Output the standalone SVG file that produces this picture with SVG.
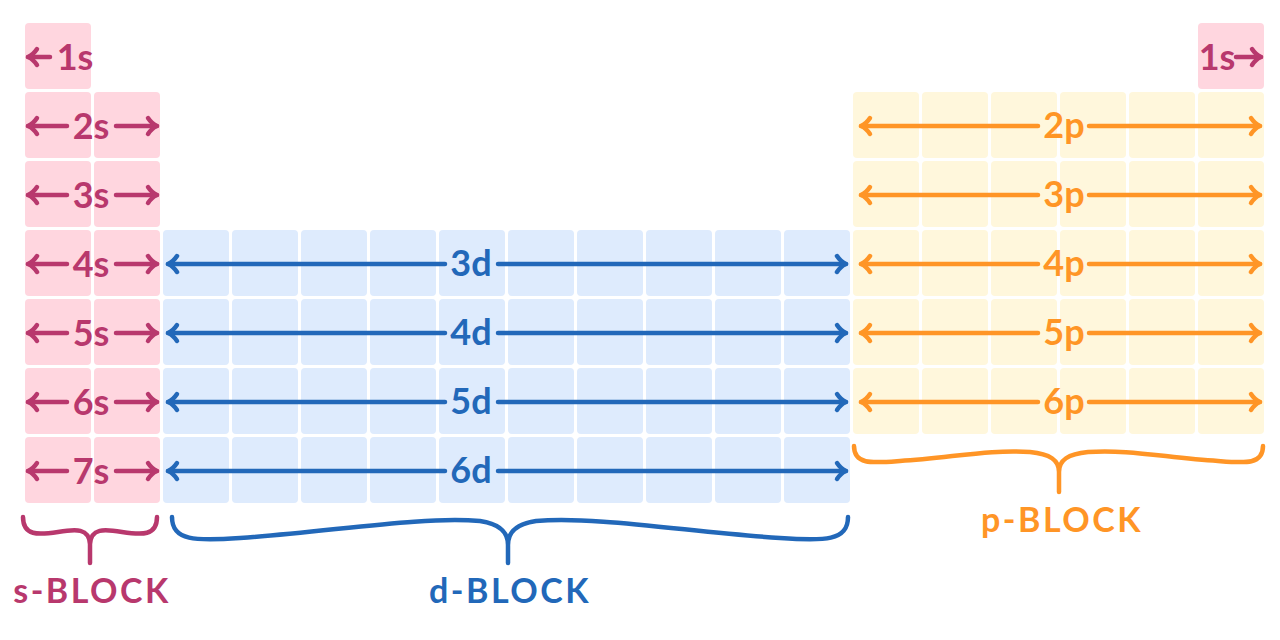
<svg xmlns="http://www.w3.org/2000/svg" width="1280" height="640" viewBox="0 0 1280 640">
  <style>
    .s-cell { fill: #FFD6DF; }
    .d-cell { fill: #DEEBFD; }
    .p-cell { fill: #FFF7DC; }
    text { font-family: "Lato", "Liberation Sans", sans-serif; font-weight: 700; text-anchor: middle; }
    .lbl { font-size: 36px; }
    .blk { font-size: 34px; letter-spacing: 2.5px; }
    .s-t { fill: #B8386D; }
    .d-t { fill: #2268B9; }
    .p-t { fill: #FF9526; }
    .ln { fill: none; stroke-width: 4.5; stroke-linecap: round; stroke-linejoin: round; }
    .s-l { stroke: #B8386D; }
    .d-l { stroke: #2268B9; }
    .p-l { stroke: #FF9526; }
  </style>
  <defs>
    <marker id="hs" markerUnits="userSpaceOnUse" viewBox="-14 -12 18 24" refX="0" refY="0" markerWidth="18" markerHeight="24" orient="auto" overflow="visible">
      <path d="M-9,-8 Q-5,-2 0,0 Q-5,2 -9,8" fill="none" stroke="#B8386D" stroke-width="4.5" stroke-linecap="round" stroke-linejoin="round"/>
    </marker>
    <marker id="hd" markerUnits="userSpaceOnUse" viewBox="-14 -12 18 24" refX="0" refY="0" markerWidth="18" markerHeight="24" orient="auto" overflow="visible">
      <path d="M-9,-8 Q-5,-2 0,0 Q-5,2 -9,8" fill="none" stroke="#2268B9" stroke-width="4.5" stroke-linecap="round" stroke-linejoin="round"/>
    </marker>
    <marker id="hp" markerUnits="userSpaceOnUse" viewBox="-14 -12 18 24" refX="0" refY="0" markerWidth="18" markerHeight="24" orient="auto" overflow="visible">
      <path d="M-9,-8 Q-5,-2 0,0 Q-5,2 -9,8" fill="none" stroke="#FF9526" stroke-width="4.5" stroke-linecap="round" stroke-linejoin="round"/>
    </marker>
  </defs>

  <!-- s-block cells -->
  <g id="s-block">
    <rect class="s-cell" x="25" y="23" width="66" height="66" rx="4"/>
    <rect class="s-cell" x="1198" y="23" width="66" height="66" rx="4"/>
    <rect class="s-cell" x="25" y="92" width="66" height="66" rx="4"/>
    <rect class="s-cell" x="94" y="92" width="66" height="66" rx="4"/>
    <rect class="s-cell" x="25" y="161" width="66" height="66" rx="4"/>
    <rect class="s-cell" x="94" y="161" width="66" height="66" rx="4"/>
    <rect class="s-cell" x="25" y="230" width="66" height="66" rx="4"/>
    <rect class="s-cell" x="94" y="230" width="66" height="66" rx="4"/>
    <rect class="s-cell" x="25" y="299" width="66" height="66" rx="4"/>
    <rect class="s-cell" x="94" y="299" width="66" height="66" rx="4"/>
    <rect class="s-cell" x="25" y="368" width="66" height="66" rx="4"/>
    <rect class="s-cell" x="94" y="368" width="66" height="66" rx="4"/>
    <rect class="s-cell" x="25" y="437" width="66" height="66" rx="4"/>
    <rect class="s-cell" x="94" y="437" width="66" height="66" rx="4"/>
  </g>

  <!-- d-block cells -->
  <g id="d-block">
    <rect class="d-cell" x="163" y="230" width="66" height="66" rx="4"/>
    <rect class="d-cell" x="232" y="230" width="66" height="66" rx="4"/>
    <rect class="d-cell" x="301" y="230" width="66" height="66" rx="4"/>
    <rect class="d-cell" x="370" y="230" width="66" height="66" rx="4"/>
    <rect class="d-cell" x="439" y="230" width="66" height="66" rx="4"/>
    <rect class="d-cell" x="508" y="230" width="66" height="66" rx="4"/>
    <rect class="d-cell" x="577" y="230" width="66" height="66" rx="4"/>
    <rect class="d-cell" x="646" y="230" width="66" height="66" rx="4"/>
    <rect class="d-cell" x="715" y="230" width="66" height="66" rx="4"/>
    <rect class="d-cell" x="784" y="230" width="66" height="66" rx="4"/>
    <rect class="d-cell" x="163" y="299" width="66" height="66" rx="4"/>
    <rect class="d-cell" x="232" y="299" width="66" height="66" rx="4"/>
    <rect class="d-cell" x="301" y="299" width="66" height="66" rx="4"/>
    <rect class="d-cell" x="370" y="299" width="66" height="66" rx="4"/>
    <rect class="d-cell" x="439" y="299" width="66" height="66" rx="4"/>
    <rect class="d-cell" x="508" y="299" width="66" height="66" rx="4"/>
    <rect class="d-cell" x="577" y="299" width="66" height="66" rx="4"/>
    <rect class="d-cell" x="646" y="299" width="66" height="66" rx="4"/>
    <rect class="d-cell" x="715" y="299" width="66" height="66" rx="4"/>
    <rect class="d-cell" x="784" y="299" width="66" height="66" rx="4"/>
    <rect class="d-cell" x="163" y="368" width="66" height="66" rx="4"/>
    <rect class="d-cell" x="232" y="368" width="66" height="66" rx="4"/>
    <rect class="d-cell" x="301" y="368" width="66" height="66" rx="4"/>
    <rect class="d-cell" x="370" y="368" width="66" height="66" rx="4"/>
    <rect class="d-cell" x="439" y="368" width="66" height="66" rx="4"/>
    <rect class="d-cell" x="508" y="368" width="66" height="66" rx="4"/>
    <rect class="d-cell" x="577" y="368" width="66" height="66" rx="4"/>
    <rect class="d-cell" x="646" y="368" width="66" height="66" rx="4"/>
    <rect class="d-cell" x="715" y="368" width="66" height="66" rx="4"/>
    <rect class="d-cell" x="784" y="368" width="66" height="66" rx="4"/>
    <rect class="d-cell" x="163" y="437" width="66" height="66" rx="4"/>
    <rect class="d-cell" x="232" y="437" width="66" height="66" rx="4"/>
    <rect class="d-cell" x="301" y="437" width="66" height="66" rx="4"/>
    <rect class="d-cell" x="370" y="437" width="66" height="66" rx="4"/>
    <rect class="d-cell" x="439" y="437" width="66" height="66" rx="4"/>
    <rect class="d-cell" x="508" y="437" width="66" height="66" rx="4"/>
    <rect class="d-cell" x="577" y="437" width="66" height="66" rx="4"/>
    <rect class="d-cell" x="646" y="437" width="66" height="66" rx="4"/>
    <rect class="d-cell" x="715" y="437" width="66" height="66" rx="4"/>
    <rect class="d-cell" x="784" y="437" width="66" height="66" rx="4"/>
  </g>

  <!-- p-block cells -->
  <g id="p-block">
    <rect class="p-cell" x="853" y="92" width="66" height="66" rx="4"/>
    <rect class="p-cell" x="922" y="92" width="66" height="66" rx="4"/>
    <rect class="p-cell" x="991" y="92" width="66" height="66" rx="4"/>
    <rect class="p-cell" x="1060" y="92" width="66" height="66" rx="4"/>
    <rect class="p-cell" x="1129" y="92" width="66" height="66" rx="4"/>
    <rect class="p-cell" x="1198" y="92" width="66" height="66" rx="4"/>
    <rect class="p-cell" x="853" y="161" width="66" height="66" rx="4"/>
    <rect class="p-cell" x="922" y="161" width="66" height="66" rx="4"/>
    <rect class="p-cell" x="991" y="161" width="66" height="66" rx="4"/>
    <rect class="p-cell" x="1060" y="161" width="66" height="66" rx="4"/>
    <rect class="p-cell" x="1129" y="161" width="66" height="66" rx="4"/>
    <rect class="p-cell" x="1198" y="161" width="66" height="66" rx="4"/>
    <rect class="p-cell" x="853" y="230" width="66" height="66" rx="4"/>
    <rect class="p-cell" x="922" y="230" width="66" height="66" rx="4"/>
    <rect class="p-cell" x="991" y="230" width="66" height="66" rx="4"/>
    <rect class="p-cell" x="1060" y="230" width="66" height="66" rx="4"/>
    <rect class="p-cell" x="1129" y="230" width="66" height="66" rx="4"/>
    <rect class="p-cell" x="1198" y="230" width="66" height="66" rx="4"/>
    <rect class="p-cell" x="853" y="299" width="66" height="66" rx="4"/>
    <rect class="p-cell" x="922" y="299" width="66" height="66" rx="4"/>
    <rect class="p-cell" x="991" y="299" width="66" height="66" rx="4"/>
    <rect class="p-cell" x="1060" y="299" width="66" height="66" rx="4"/>
    <rect class="p-cell" x="1129" y="299" width="66" height="66" rx="4"/>
    <rect class="p-cell" x="1198" y="299" width="66" height="66" rx="4"/>
    <rect class="p-cell" x="853" y="368" width="66" height="66" rx="4"/>
    <rect class="p-cell" x="922" y="368" width="66" height="66" rx="4"/>
    <rect class="p-cell" x="991" y="368" width="66" height="66" rx="4"/>
    <rect class="p-cell" x="1060" y="368" width="66" height="66" rx="4"/>
    <rect class="p-cell" x="1129" y="368" width="66" height="66" rx="4"/>
    <rect class="p-cell" x="1198" y="368" width="66" height="66" rx="4"/>
  </g>

  <!-- connectors: orbital arrows and braces -->
  <g id="connectors">
    <!-- s arrows -->
    <path class="ln s-l" d="M50,57 L28,57" marker-end="url(#hs)"/>
    <path class="ln s-l" d="M1236,57 L1261,57" marker-end="url(#hs)"/>
    <path class="ln s-l" d="M67,126 L28,126" marker-end="url(#hs)"/>
    <path class="ln s-l" d="M116,126 L157,126" marker-end="url(#hs)"/>
    <path class="ln s-l" d="M67,195 L28,195" marker-end="url(#hs)"/>
    <path class="ln s-l" d="M116,195 L157,195" marker-end="url(#hs)"/>
    <path class="ln s-l" d="M67,264 L28,264" marker-end="url(#hs)"/>
    <path class="ln s-l" d="M116,264 L157,264" marker-end="url(#hs)"/>
    <path class="ln s-l" d="M67,333 L28,333" marker-end="url(#hs)"/>
    <path class="ln s-l" d="M116,333 L157,333" marker-end="url(#hs)"/>
    <path class="ln s-l" d="M67,402 L28,402" marker-end="url(#hs)"/>
    <path class="ln s-l" d="M116,402 L157,402" marker-end="url(#hs)"/>
    <path class="ln s-l" d="M67,471 L28,471" marker-end="url(#hs)"/>
    <path class="ln s-l" d="M116,471 L157,471" marker-end="url(#hs)"/>
    <!-- d arrows -->
    <path class="ln d-l" d="M445,264 L168,264" marker-end="url(#hd)"/>
    <path class="ln d-l" d="M498,264 L846,264" marker-end="url(#hd)"/>
    <path class="ln d-l" d="M445,333 L168,333" marker-end="url(#hd)"/>
    <path class="ln d-l" d="M498,333 L846,333" marker-end="url(#hd)"/>
    <path class="ln d-l" d="M445,402 L168,402" marker-end="url(#hd)"/>
    <path class="ln d-l" d="M498,402 L846,402" marker-end="url(#hd)"/>
    <path class="ln d-l" d="M445,471 L168,471" marker-end="url(#hd)"/>
    <path class="ln d-l" d="M498,471 L846,471" marker-end="url(#hd)"/>
    <!-- p arrows -->
    <path class="ln p-l" d="M1038,126 L861,126" marker-end="url(#hp)"/>
    <path class="ln p-l" d="M1089,126 L1260,126" marker-end="url(#hp)"/>
    <path class="ln p-l" d="M1038,195 L861,195" marker-end="url(#hp)"/>
    <path class="ln p-l" d="M1089,195 L1260,195" marker-end="url(#hp)"/>
    <path class="ln p-l" d="M1038,264 L861,264" marker-end="url(#hp)"/>
    <path class="ln p-l" d="M1089,264 L1260,264" marker-end="url(#hp)"/>
    <path class="ln p-l" d="M1038,333 L861,333" marker-end="url(#hp)"/>
    <path class="ln p-l" d="M1089,333 L1260,333" marker-end="url(#hp)"/>
    <path class="ln p-l" d="M1038,402 L861,402" marker-end="url(#hp)"/>
    <path class="ln p-l" d="M1089,402 L1260,402" marker-end="url(#hp)"/>
    <!-- braces -->
    <path class="ln s-l" d="M23,517 C23,536 38,535 58,532 C76,529 89,528 90,544 M157,517 C157,536 142,535 122,532 C104,529 91,528 90,544 M90,540 L90,563"/>
    <path class="ln d-l" d="M172,517 C172,541 195,541 240,538 C330,532 420,516 480,521 C500,524 508,532 508,545 M848,517 C848,541 825,541 780,538 C690,532 596,516 536,521 C516,524 508,532 508,545 M508,540 L508,563"/>
    <path class="ln p-l" d="M854,446 C854,465 872,463 900,461 C950,458 990,449 1030,452 C1050,454 1059,460 1059,472 M1263,446 C1263,465 1245,463 1218,461 C1168,458 1128,449 1088,452 C1068,454 1059,460 1059,472 M1059,466 L1059,492"/>
  </g>

  <!-- labels -->
  <g id="s-labels" class="lbl s-t">
    <text x="75" y="70">1s</text>
    <text x="1217" y="70">1s</text>
    <text x="91" y="139">2s</text>
    <text x="91" y="208">3s</text>
    <text x="91" y="277">4s</text>
    <text x="91" y="346">5s</text>
    <text x="91" y="415">6s</text>
    <text x="91" y="484">7s</text>
  </g>
  <g id="d-labels" class="lbl d-t">
    <text x="471" y="276">3d</text>
    <text x="471" y="345">4d</text>
    <text x="471" y="414">5d</text>
    <text x="471" y="483">6d</text>
  </g>
  <g id="p-labels" class="lbl p-t">
    <text x="1064" y="138">2p</text>
    <text x="1064" y="207">3p</text>
    <text x="1064" y="276">4p</text>
    <text x="1064" y="345">5p</text>
    <text x="1064" y="414">6p</text>
  </g>
  <g id="block-labels" class="blk">
    <text class="s-t" x="92" y="603">s-BLOCK</text>
    <text class="d-t" x="510" y="603">d-BLOCK</text>
    <text class="p-t" x="1062" y="532">p-BLOCK</text>
  </g>
</svg>
